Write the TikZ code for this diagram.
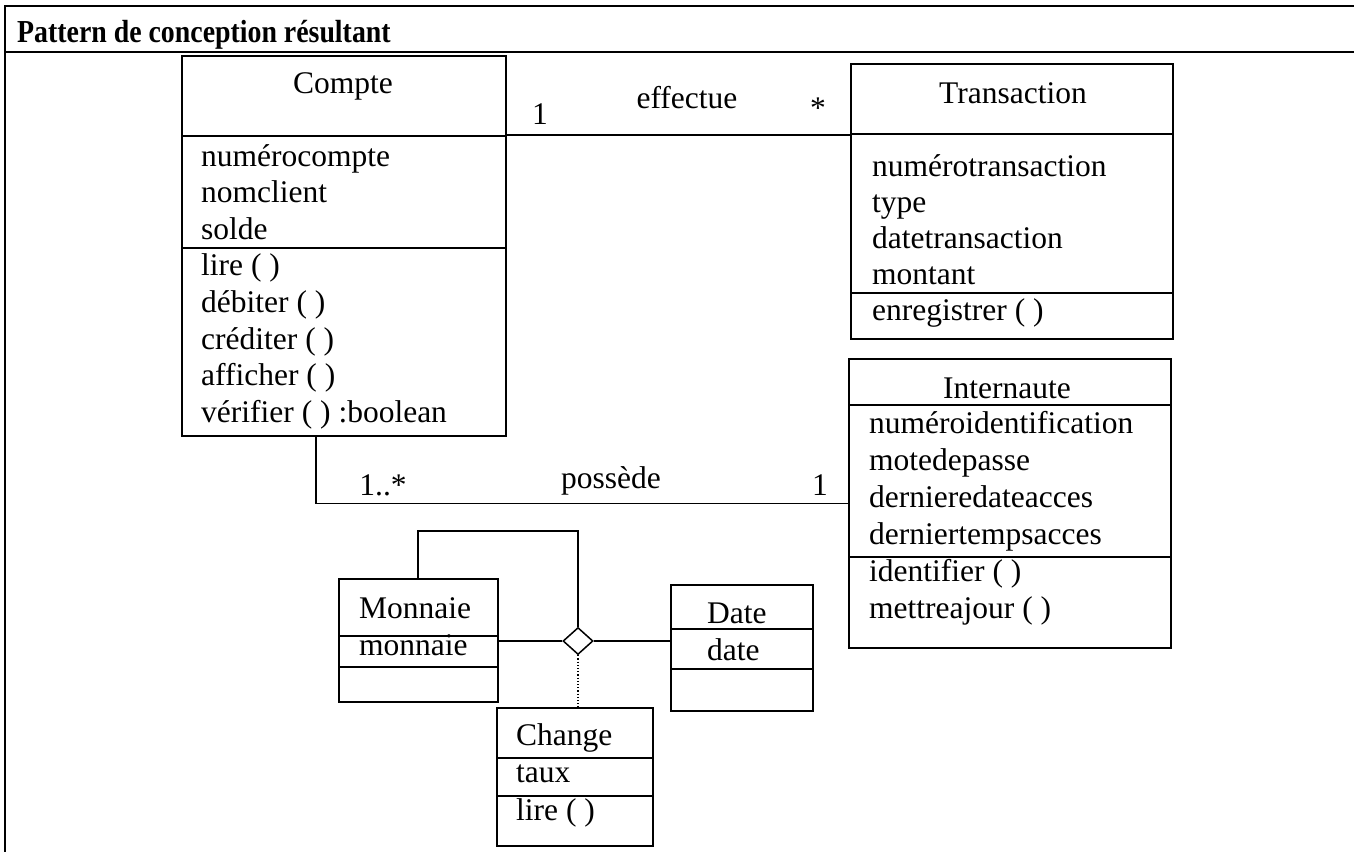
\documentclass[tikz,border=0pt]{standalone}
\usepackage{fontspec}
\setmainfont{Liberation Serif}
\usetikzlibrary{shapes.geometric,calc}

\begin{document}
\begin{tikzpicture}[
    x=1pt, y=-1pt,
    font=\fontsize{31.5}{36.6}\selectfont,
    classbox/.style={draw, line width=2pt, anchor=north west, inner sep=0pt},
    divider/.style={line width=1.6pt},
    item/.style={anchor=base west, inner sep=0pt},
    classname/.style={anchor=base, inner sep=0pt},
    assoc/.style={line width=1.3pt},
    mult/.style={anchor=base, inner sep=0pt},
    frame/.style={line width=1.2pt},
]
    \useasboundingbox (0,0) rectangle (1354,852);

    % cadre
    \draw[frame] (1354,6) -- (5,6) -- (5,852);
    \draw[frame] (5,52) -- (1354,52);
    \node[anchor=base west, inner sep=0pt, font=\bfseries\fontsize{32}{36}\selectfont] (titre) at (17,42) {\scalebox{0.87}[1]{Pattern de conception résultant}};

    % classes
    \node[classbox, minimum width=324, minimum height=380] (compte) at (181,55) {};
    \node[classbox, minimum width=322, minimum height=275] (transaction) at (850,63) {};
    \node[classbox, minimum width=322, minimum height=289] (internaute) at (848,358) {};
    \node[classbox, minimum width=159, minimum height=123] (monnaie) at (338,578) {};
    \node[classbox, minimum width=142, minimum height=126] (date) at (670,584) {};
    \node[classbox, minimum width=156, minimum height=138] (change) at (496,707) {};

    \foreach \n/\d in {compte/81, compte/193, transaction/71, transaction/230, internaute/47, internaute/199,
                       monnaie/58, monnaie/89, date/45, date/85, change/51, change/89}
        \draw[divider] ($(\n.north west)+(0,\d)$) -- ($(\n.north east)+(0,\d)$);

    % noms
    \node[classname] (compte-nom) at (343,93) {Compte};
    \node[classname] (transaction-nom) at (1013,103) {Transaction};
    \node[classname] (internaute-nom) at (1007,398) {Internaute};
    \node[item] (monnaie-nom) at (359,618) {Monnaie};
    \node[item] (date-nom) at (707,623) {Date};
    \node[item] (change-nom) at (516,745) {Change};

    % attributs et operations
    \foreach \txt [count=\i from 0] in {numérocompte, nomclient, solde, lire ( ), débiter ( ), créditer ( ), afficher ( ), vérifier ( ) :boolean}
        \node[item] (compte-\i) at (201,166+36.6*\i) {\txt};
    \foreach \txt [count=\i from 0] in {numérotransaction, type, datetransaction, montant, enregistrer ( )}
        \node[item] (transaction-\i) at (872,176+36*\i) {\txt};
    \foreach \txt [count=\i from 0] in {numéroidentification, motedepasse, dernieredateacces, derniertempsacces, identifier ( ), mettreajour ( )}
        \node[item] (internaute-\i) at (869,433+37*\i) {\txt};
    \node[item] (monnaie-0) at (359,655) {monnaie};
    \node[item] (date-0) at (707,660) {date};
    \node[item] (change-0) at (516,782) {taux};
    \node[item] (change-1) at (516,820) {lire ( )};

    % associations
    \coordinate (effectue-debut) at ($(compte.north east)+(0,80)$);
    \draw[assoc] (effectue-debut) -- (effectue-debut -| transaction.west);
    \coordinate (possede-debut) at ($(compte.south west)+(135,0)$);
    \draw[assoc] (possede-debut) |- (internaute.west);

    \node[mult] (effectue-1) at (540,124) {1};
    \node[mult] (effectue-label) at (687,108) {effectue};
    \node[mult] (effectue-n) at (818,118) {*};
    \node[mult] (possede-n) at (383,495) {1..*};
    \node[mult] (possede-label) at (611,488) {possède};
    \node[mult] (possede-1) at (820,495) {1};

    % association ternaire
    \node[diamond, draw, line width=1.5pt, fill=white, minimum width=30, minimum height=27, inner sep=0pt] (losange) at (578,641) {};
    \draw[assoc] (losange.west -| monnaie.east) -- (losange.west);
    \draw[assoc] (losange.east) -- (losange.east -| date.west);
    \coordinate (boucle) at ($(monnaie.north west)+(80,-47)$);
    \draw[assoc] (boucle |- monnaie.north) -- (boucle) -| (losange.north);
    \draw[dotted, line width=1.2pt] (losange.south) -- (losange.south |- change.north);
\end{tikzpicture}
\end{document}
